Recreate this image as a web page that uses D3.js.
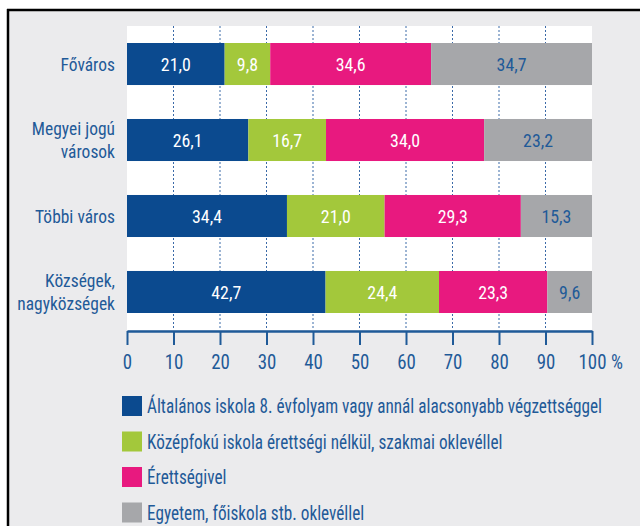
<!DOCTYPE html>
<html>
<head>
<meta charset="utf-8">
<script src="https://cdn.jsdelivr.net/npm/d3@7"></script>
<style>
  body { margin: 0; background: #fff; }
  svg text { font-family: "Liberation Sans Narrow", "Roboto Condensed", sans-serif; }
</style>
</head>
<body>
<div id="chart"></div>
<script>
const categories = [["Főváros"], ["Megyei jogú", "városok"], ["Többi város"], ["Községek,", "nagyközségek"]];
const seriesNames = [
  "Általános iskola 8. évfolyam vagy annál alacsonyabb végzettséggel",
  "Középfokú iskola érettségi nélkül, szakmai oklevéllel",
  "Érettségivel",
  "Egyetem, főiskola stb. oklevéllel"
];
const altalanos = [21.0, 26.1, 34.4, 42.7];
const kozepfoku = [9.8, 16.7, 21.0, 24.4];
const erettsegi = [34.6, 34.0, 29.3, 23.3];
const egyetem = [34.7, 23.2, 15.3, 9.6];
const xTicks = [0, 10, 20, 30, 40, 50, 60, 70, 80, 90, 100];

const colors = ["#0b4a8f", "#a3c83b", "#e8197f", "#a6a7aa"];
const labelColors = ["#fff", "#fff", "#fff", "#1f5a98"];
const textBlue = "#1f5a98";

const W = 640, H = 526;
const svg = d3.select("#chart").append("svg").attr("width", W).attr("height", H);

// frame: grey panel with black top/left border
svg.append("rect").attr("x", 8).attr("y", 10).attr("width", W - 8).attr("height", H - 10).attr("fill", "#ebebed");
svg.append("line").attr("x1", 7).attr("x2", W).attr("y1", 10).attr("y2", 10).attr("stroke", "#000").attr("stroke-width", 2.5);
svg.append("line").attr("x1", 8).attr("x2", 8).attr("y1", 9).attr("y2", H).attr("stroke", "#000").attr("stroke-width", 2.5);

const plot = { left: 127, right: 592, top: 26, bottom: 330 };

const x = d3.scaleLinear().domain([0, 100]).range([plot.left, plot.right]).clamp(true);
const y = d3.scaleBand().domain(d3.range(categories.length))
  .range([plot.top, plot.bottom]).paddingInner(0.447).paddingOuter(0.2237);

// white plot background
svg.append("rect").attr("x", plot.left).attr("y", plot.top)
  .attr("width", plot.right - plot.left).attr("height", plot.bottom - plot.top).attr("fill", "#fff");

// dashed gridlines
svg.append("g").selectAll("line").data(xTicks.slice(1, -1)).join("line")
  .attr("x1", d => x(d)).attr("x2", d => x(d))
  .attr("y1", plot.top).attr("y2", plot.bottom)
  .attr("stroke", "#3b6aa8").attr("stroke-width", 1).attr("stroke-dasharray", "2,2");

// stacked data
const rows = categories.map((c, i) => ({ i: i, s0: altalanos[i], s1: kozepfoku[i], s2: erettsegi[i], s3: egyetem[i] }));
const stack = d3.stack().keys(["s0", "s1", "s2", "s3"]);
const layers = stack(rows);

const layerG = svg.append("g").selectAll("g").data(layers).join("g")
  .attr("fill", (d, k) => colors[k]);

layerG.selectAll("rect").data(d => d).join("rect")
  .attr("x", d => x(d[0]))
  .attr("width", d => x(d[1]) - x(d[0]))
  .attr("y", d => y(d.data.i))
  .attr("height", y.bandwidth());

// value labels
layers.forEach((layer, k) => {
  svg.append("g").selectAll("text").data(layer).join("text")
    .attr("transform", d => `translate(${(x(d[0]) + x(d[1])) / 2},${y(d.data.i) + y.bandwidth() / 2}) scale(0.94,1)`)
    .attr("dy", "0.36em")
    .attr("text-anchor", "middle")
    .attr("font-size", 19)
    .attr("fill", labelColors[k])
    .text(d => d.data[layer.key].toFixed(1).replace(".", ","));
});

// category labels
const catG = svg.append("g").selectAll("text").data(categories).join("text")
  .attr("text-anchor", "end")
  .attr("font-size", 19)
  .attr("fill", textBlue)
  .attr("transform", (d, i) => `translate(115,${y(i) + y.bandwidth() / 2}) scale(0.92,1)`);
catG.selectAll("tspan").data(d => d).join("tspan")
  .attr("x", 0)
  .attr("y", (t, j, nodes) => (j - (nodes.length - 1) / 2) * 23)
  .attr("dy", "0.36em")
  .text(t => t);

// x axis
const axis = svg.append("g").attr("transform", `translate(0,${plot.bottom + 1})`)
  .call(d3.axisBottom(x).tickValues(xTicks).tickSize(14).tickPadding(9).tickSizeOuter(0));
axis.select(".domain").attr("stroke", textBlue).attr("stroke-width", 2.5);
axis.selectAll(".tick line").attr("stroke", textBlue).attr("stroke-width", 2);
axis.selectAll(".tick text").attr("fill", textBlue).attr("font-size", 21)
  .attr("font-family", null).attr("transform", "scale(0.9,1)");
axis.append("text").attr("transform", `translate(${x(100) + 19},23) scale(0.9,1)`).attr("dy", "0.71em")
  .attr("fill", textBlue).attr("font-size", 21).attr("text-anchor", "start").text("%");

// legend
const legend = svg.append("g").selectAll("g").data(seriesNames).join("g")
  .attr("transform", (d, k) => `translate(122,${396 + k * 35.5})`);
legend.append("rect").attr("width", 20).attr("height", 20).attr("fill", (d, k) => colors[k]);
legend.append("text").attr("transform", "translate(25,10) scale(0.82,1)").attr("dy", "0.34em")
  .attr("font-size", 21).attr("fill", textBlue).text(d => d);
</script>
</body>
</html>
